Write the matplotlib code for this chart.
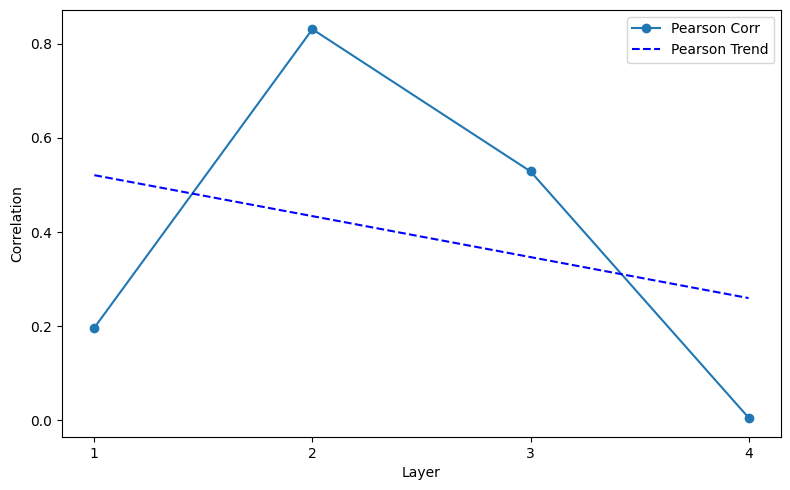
import matplotlib
matplotlib.use('Agg')
import matplotlib.pyplot as plt

# values
layers = [1, 2, 3, 4]
pearson_corr = [0.197, 0.831, 0.529, 0.006]
pearson_trend = [0.521, 0.434, 0.347, 0.260]

fig, ax = plt.subplots(figsize=(7.9, 4.9), dpi=100)
ax.plot(layers, pearson_corr, marker='o', label='Pearson Corr')
ax.plot(layers, pearson_trend, linestyle='--', color='blue', label='Pearson Trend')

ax.set_xticks(layers)
ax.set_xlabel('Layer')
ax.set_ylabel('Correlation')
ax.legend()
fig.subplots_adjust(left=0.078, right=0.989, top=0.980, bottom=0.108)
plt.savefig('out.png')
